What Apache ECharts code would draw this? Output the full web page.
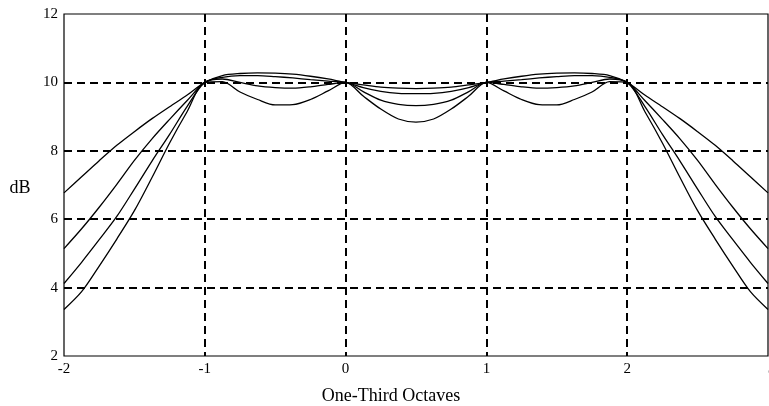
<!DOCTYPE html>
<html>
<head>
<meta charset="utf-8">
<script src="https://cdn.jsdelivr.net/npm/echarts@6/dist/echarts.min.js"></script>
<style>html,body{margin:0;padding:0;background:#fff}#c{width:769px;height:406px}</style>
</head>
<body>
<div id="c"></div>
<script>
// One-third octave positions (x) and four response curves (dB)
const octaves = [-2,-1.875,-1.75,-1.625,-1.5,-1.375,-1.25,-1.125,-1,-0.875,-0.75,-0.625,-0.5,-0.375,-0.25,-0.125,0,0.125,0.25,0.375,0.5,0.625,0.75,0.875,1,1.125,1.25,1.375,1.5,1.625,1.75,1.875,2,2.125,2.25,2.375,2.5,2.625,2.75,2.875,3];
const curve1 = [6.77,7.24,7.71,8.16,8.56,8.94,9.29,9.63,10.0, 10.2,10.26,10.28,10.27,10.24,10.18,10.1,10.0, 9.93,9.86,9.83,9.82,9.83,9.86,9.93,10.0, 10.1,10.18,10.24,10.27,10.28,10.26,10.2,10.0, 9.63,9.29,8.94,8.56,8.16,7.71,7.24,6.77];
const curve2 = [5.14,5.72,6.35,7.02,7.72,8.35,8.92,9.47,10.0, 10.15,10.2,10.2,10.17,10.13,10.08,10.04,10.0, 9.85,9.74,9.68,9.67,9.68,9.74,9.85,10.0, 10.04,10.08,10.13,10.17,10.2,10.2,10.15,10.0, 9.47,8.92,8.35,7.72,7.02,6.35,5.72,5.14];
const curve3 = [4.12,4.74,5.40,6.08,6.88,7.70,8.48,9.3,10.0, 10.1,10.0,9.9,9.85,9.83,9.87,9.94,10.0, 9.73,9.48,9.36,9.32,9.36,9.48,9.73,10.0, 9.94,9.87,9.83,9.85,9.9,10.0,10.1,10.0, 9.3,8.48,7.70,6.88,6.08,5.40,4.74,4.12];
const curve4 = [3.36,3.88,4.63,5.42,6.25,7.22,8.23,9.15,10.0, 10.02,9.72,9.5,9.34,9.35,9.5,9.75,10.0, 9.6,9.22,8.93,8.84,8.93,9.22,9.6,10.0, 9.75,9.5,9.35,9.34,9.5,9.72,10.02,10.0, 9.15,8.23,7.22,6.25,5.42,4.63,3.88,3.36];
const curves = [curve1, curve2, curve3, curve4];
const xTicks = ['-2','-1','0','1','2','3'];
const yTicks = ['2','4','6','8','10','12'];
const xName = 'One-Third Octaves';
const yName = 'dB';

const font = '"Liberation Serif", "DejaVu Serif", serif';
const chart = echarts.init(document.getElementById('c'), null, {renderer: 'canvas'});
chart.setOption({
  backgroundColor: '#fff',
  animation: false,
  grid: {left: 64, right: 1, top: 14, bottom: 50, show: true, outerBoundsMode: 'none', containLabel: false,
    borderColor: '#000', borderWidth: 1.2, backgroundColor: 'transparent'},
  xAxis: {
    type: 'value', min: -2, max: 3, interval: 1,
    axisLine: {show: false}, axisTick: {show: false},
    axisLabel: {color: '#000', fontFamily: font, fontSize: 15, margin: 6, alignMaxLabel: 'left',
      formatter: v => xTicks[Math.round(v + 2)]},
    splitLine: {show: true, showMinLine: false, showMaxLine: false,
      lineStyle: {color: '#000', width: 2, type: [8, 5]}}
  },
  yAxis: {
    type: 'value', min: 2, max: 12, interval: 2,
    axisLine: {show: false}, axisTick: {show: false},
    axisLabel: {color: '#000', fontFamily: font, fontSize: 15, margin: 6,
      formatter: v => yTicks[Math.round((v - 2) / 2)]},
    splitLine: {show: true, showMinLine: false, showMaxLine: false,
      lineStyle: {color: '#000', width: 2, type: [8, 5]}}
  },
  graphic: [
    {type: 'text', x: 20, y: 188, style: {text: yName, font: '18px ' + font, fill: '#000', textAlign: 'center', textVerticalAlign: 'middle'}},
    {type: 'text', x: 391, y: 396, style: {text: xName, font: '18px ' + font, fill: '#000', textAlign: 'center', textVerticalAlign: 'middle'}}
  ],
  series: curves.map(c => ({
    type: 'line', showSymbol: false, smooth: 0.3,
    lineStyle: {color: '#000', width: 1.3},
    data: octaves.map((x, i) => [x, c[i]])
  }))
});
</script>
</body>
</html>
